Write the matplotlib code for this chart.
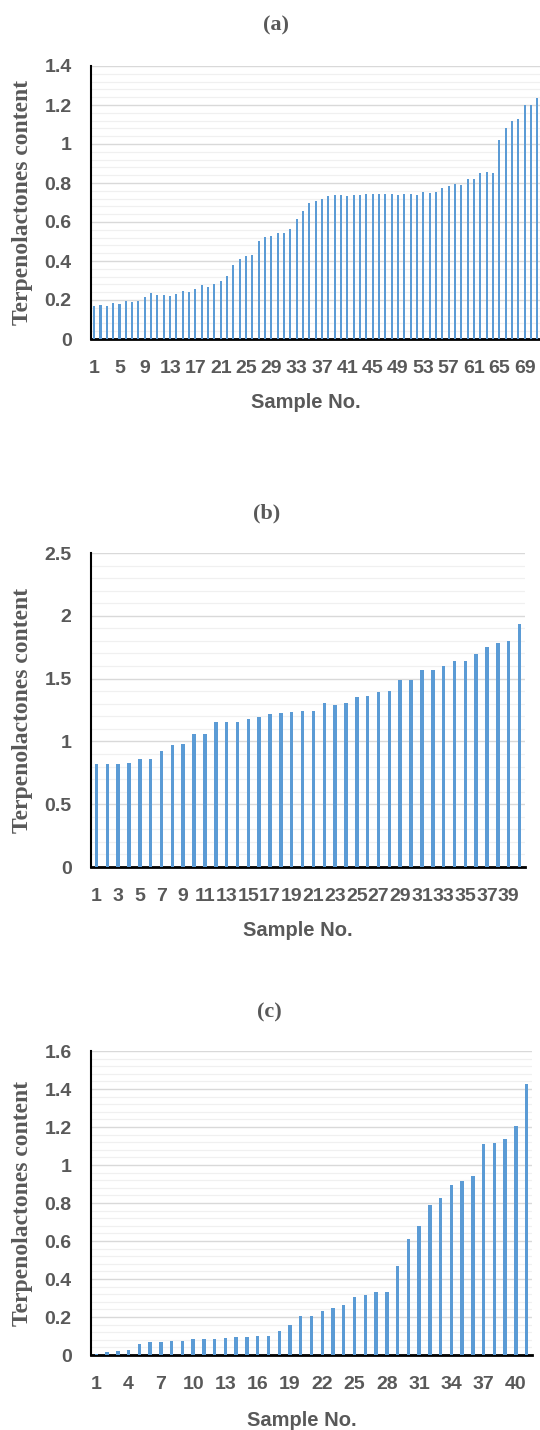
import numpy as np
import matplotlib.pyplot as plt
from matplotlib.ticker import MultipleLocator

# Terpenolactones content per sample, sorted ascending
values_a = [0.169, 0.174, 0.171, 0.183, 0.181, 0.193, 0.190, 0.196, 0.213, 0.234,
            0.225, 0.224, 0.220, 0.232, 0.244, 0.242, 0.254, 0.275, 0.265, 0.283,
            0.297, 0.323, 0.377, 0.408, 0.425, 0.430, 0.502, 0.521, 0.528, 0.546,
            0.543, 0.563, 0.613, 0.654, 0.695, 0.707, 0.720, 0.732, 0.738, 0.741,
            0.732, 0.736, 0.736, 0.746, 0.743, 0.743, 0.746, 0.743, 0.741, 0.746,
            0.743, 0.741, 0.753, 0.751, 0.756, 0.775, 0.787, 0.794, 0.789, 0.818,
            0.823, 0.849, 0.854, 0.850, 1.019, 1.081, 1.117, 1.127, 1.200, 1.200,
            1.238]
values_b = [0.822, 0.822, 0.822, 0.832, 0.862, 0.862, 0.923, 0.973, 0.981, 1.061,
            1.061, 1.152, 1.152, 1.152, 1.181, 1.194, 1.221, 1.223, 1.231, 1.242,
            1.242, 1.303, 1.290, 1.303, 1.351, 1.362, 1.391, 1.402, 1.489, 1.489,
            1.569, 1.569, 1.601, 1.641, 1.641, 1.694, 1.753, 1.782, 1.800, 1.931]
values_c = [0.007, 0.018, 0.023, 0.028, 0.056, 0.068, 0.070, 0.074, 0.075, 0.082,
            0.084, 0.084, 0.091, 0.093, 0.096, 0.100, 0.102, 0.124, 0.158, 0.205,
            0.205, 0.230, 0.249, 0.265, 0.307, 0.315, 0.331, 0.333, 0.466, 0.612,
            0.680, 0.790, 0.827, 0.894, 0.918, 0.943, 1.111, 1.115, 1.136, 1.206,
            1.428]

panel_titles = ["(a)", "(b)", "(c)"]
tick_steps = [4, 2, 3]
y_max = [1.4, 2.5, 1.6]
y_major = [0.2, 0.5, 0.2]

W, H = 540, 1430
BAR_COLOR = "#5B9BD5"
TEXT_GRAY = "#595959"

# axes boxes in pixels: left, right, top, bottom
boxes = [(91, 540.5, 66, 339), (91, 525, 553, 867), (91, 532, 1051, 1355)]
title_pos = [(276, 25), (267, 513), (269, 1012)]
xlabel_pos = [(306, 402), (298, 930), (302, 1420)]

fig = plt.figure(figsize=(W / 100, H / 100), dpi=100)

for i, vals in enumerate([values_a, values_b, values_c]):
    l, r, t, b = boxes[i]
    ax = fig.add_axes([l / W, 1 - b / H, (r - l) / W, (b - t) / H])
    n = len(vals)
    x = np.arange(1, n + 1)
    ax.bar(x, vals, width=0.32, color=BAR_COLOR, linewidth=0, zorder=3)
    ax.set_xlim(0.5, n + 0.5)
    ax.set_ylim(0, y_max[i])

    # Excel-style major/minor gridlines
    ax.yaxis.set_major_locator(MultipleLocator(y_major[i]))
    ax.yaxis.set_minor_locator(MultipleLocator(y_major[i] / 5))
    ax.grid(axis="y", which="major", color="#d9d9d9", linewidth=1.0, zorder=0)
    ax.grid(axis="y", which="minor", color="#f0f0f0", linewidth=0.9, zorder=0)
    ax.set_axisbelow(True)

    ticks = x[::tick_steps[i]]
    ax.set_xticks(ticks)
    ax.set_xticklabels([str(v) for v in ticks])
    ax.tick_params(axis="both", which="both", length=0)
    ax.tick_params(axis="y", pad=14)
    ax.tick_params(axis="x", pad=15)
    for lab in ax.get_xticklabels() + ax.get_yticklabels():
        lab.set_fontfamily("Liberation Sans")
        lab.set_fontweight("bold")
        lab.set_fontsize(14)
        lab.set_color(TEXT_GRAY)
    ax.yaxis.set_major_formatter(plt.FuncFormatter(lambda v, p: f"{v:g}"))

    for s in ["top", "right"]:
        ax.spines[s].set_visible(False)
    ax.spines["left"].set_linewidth(1.5)
    ax.spines["bottom"].set_linewidth(2.0)
    ax.spines["left"].set_color("black")
    ax.spines["bottom"].set_color("black")

    # titles and axis labels placed like the original layout
    tx, ty = title_pos[i]
    fig.text(tx / W, 1 - ty / H, panel_titles[i], ha="center", va="center",
             family="Liberation Serif", fontweight="bold", fontsize=16, color=TEXT_GRAY)
    lx, ly = xlabel_pos[i]
    fig.text(lx / W, 1 - ly / H, "Sample No.", ha="center", va="center",
             family="Liberation Sans", fontweight="bold", fontsize=14.5, color=TEXT_GRAY)
    fig.text(23 / W, 1 - (t + b) / 2 / H, "Terpenolactones content", rotation=90,
             ha="center", va="center", family="Liberation Serif", fontweight="bold",
             fontsize=17, color=TEXT_GRAY)

plt.savefig("out.png", dpi=100)
